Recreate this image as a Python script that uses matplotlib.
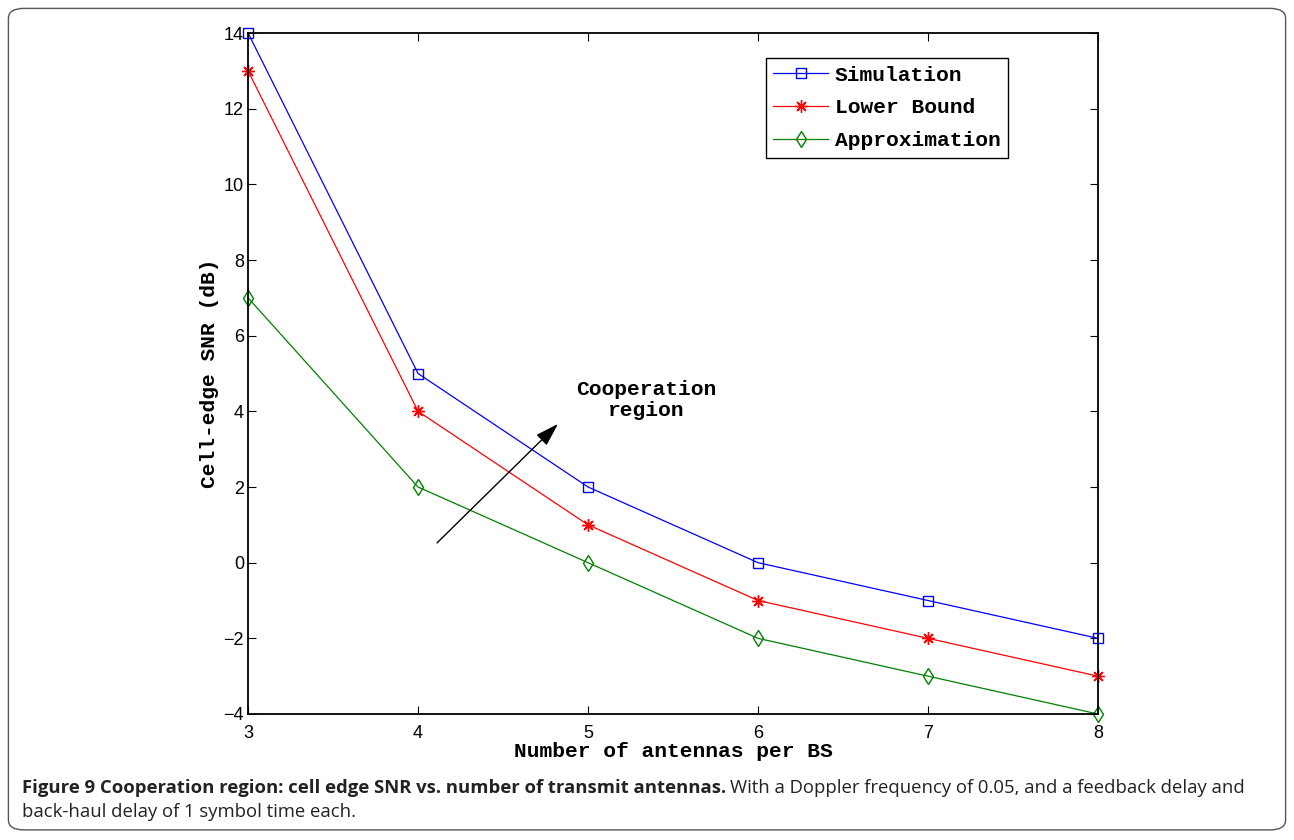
import matplotlib
matplotlib.use('Agg')
import matplotlib.pyplot as plt
from matplotlib.patches import FancyBboxPatch

antennas = [3, 4, 5, 6, 7, 8]
simulation = [14, 5, 2, 0, -1, -2]
lower_bound = [13, 4, 1, -1, -2, -3]
approximation = [7, 2, 0, -2, -3, -4]

mono = {'family': 'Liberation Mono', 'weight': 'bold'}

fig = plt.figure(figsize=(12.94, 8.4), dpi=100)
ax = fig.add_axes([0.1917, 0.15, 0.6568, 0.8107])

ax.plot(antennas, simulation, '-s', color='b', lw=0.9, ms=7, mfc='none', mew=1,
        label='Simulation', clip_on=False)
ax.plot(antennas, lower_bound, '-', marker=(8, 2, 0), color='r', lw=0.9, ms=9,
        mew=1, label='Lower Bound', clip_on=False)
ax.plot(antennas, approximation, '-d', color='g', lw=0.9, ms=8, mfc='none', mew=1,
        label='Approximation', clip_on=False)

ax.set_xlim(3, 8)
ax.set_ylim(-4, 14)
ax.set_xticks(antennas)
ax.set_yticks(range(-4, 15, 2))
ax.set_yticklabels([str(v).replace('-', '\u2212') for v in range(-4, 15, 2)])
ax.tick_params(direction='in', top=True, right=True, length=6, width=0.8,
               labelsize=13)
ax.tick_params(axis='x', pad=8)
ax.tick_params(axis='y', pad=3)
for lab in ax.get_xticklabels() + ax.get_yticklabels():
    lab.set_family('Liberation Sans')
for s in ax.spines.values():
    s.set_linewidth(1.3)

ax.set_xlabel('Number of antennas per BS', fontdict=mono, fontsize=15.3, labelpad=0)
ax.set_ylabel('Cell-edge SNR (dB)', fontdict=mono, fontsize=15.3, labelpad=3.5)

leg = ax.legend(loc='upper right', bbox_to_anchor=(0.894, 0.963), fancybox=False,
                edgecolor='black', framealpha=1, handlelength=2.6,
                handletextpad=0.3, borderaxespad=0,
                prop={'family': 'Liberation Mono', 'weight': 'bold', 'size': 15.3},
                borderpad=0.35, labelspacing=0.65)
leg.get_frame().set_linewidth(1)

ax.annotate('', xy=(4.835, 3.72), xytext=(4.1, 0.47),
            arrowprops=dict(arrowstyle='-|>,head_length=0.8,head_width=0.25',
                            color='black', lw=1, mutation_scale=18))
ax.text(5.34, 4.3, 'Cooperation\nregion', ha='center', va='center',
        fontdict=mono, fontsize=15.3, linespacing=1.1)

# rounded frame and caption
fig.patches.append(FancyBboxPatch((0.0065, 0.012), 0.987, 0.978,
                                  boxstyle='round,pad=0,rounding_size=0.012',
                                  transform=fig.transFigure, fill=False,
                                  edgecolor='#555555', lw=1))
cap_bold = fig.text(0.017, 0.062,
                    'Figure 9 Cooperation region: cell edge SNR vs. number of transmit antennas.',
                    fontsize=13.3, family='Open Sans', weight='bold', va='center',
                    color='#222222')
fig.text(0.017, 0.033, 'back-haul delay of 1 symbol time each.',
         fontsize=13.3, family='Open Sans', va='center', color='#222222')
fig.canvas.draw()
bb = cap_bold.get_window_extent().transformed(fig.transFigure.inverted())
fig.text(bb.x1 + 0.003, 0.062,
         'With a Doppler frequency of 0.05, and a feedback delay and',
         fontsize=13.3, family='Open Sans', va='center', color='#222222')

fig.savefig('out.png', dpi=100)
